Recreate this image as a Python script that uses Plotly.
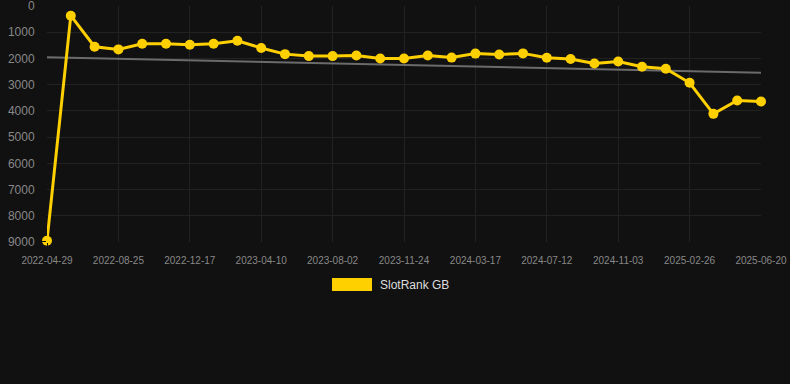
import plotly.graph_objects as go

dates = [
    "2022-04-29", "2022-06-07", "2022-07-16", "2022-08-25", "2022-10-02", "2022-11-09",
    "2022-12-17", "2023-01-24", "2023-03-03", "2023-04-10", "2023-05-18", "2023-06-25",
    "2023-08-02", "2023-09-09", "2023-10-17", "2023-11-24", "2024-01-01", "2024-02-08",
    "2024-03-17", "2024-04-25", "2024-06-03", "2024-07-12", "2024-08-19", "2024-09-26",
    "2024-11-03", "2024-12-11", "2025-01-18", "2025-02-26", "2025-04-05", "2025-05-13",
    "2025-06-20",
]
rank = [
    8950, 370, 1555, 1655, 1440, 1440, 1478, 1440, 1325, 1600, 1835,
    1910, 1910, 1890, 2005, 2005, 1890, 1967, 1815, 1848, 1807, 1973,
    2024, 2190, 2115, 2318, 2394, 2929, 4113, 3603, 3641,
]
trend_x = [dates[0], dates[-1]]
trend_y = [1950, 2545]
tick_labels = dates[::3]
y_ticks = [0, 1000, 2000, 3000, 4000, 5000, 6000, 7000, 8000, 9000]
series_name = "SlotRank GB"

gold = "#FFD000"
bg = "#111111"
grid = "#222222"

L, R, T, B = 47, 29, 6, 142
W, H = 790, 384
ph = H - T - B
pw = W - L - R

fig = go.Figure()
fig.add_trace(go.Scatter(
    x=trend_x, y=trend_y, mode="lines",
    line=dict(color="#6b6b6b", width=2), showlegend=False, hoverinfo="skip",
))
fig.add_trace(go.Scatter(
    x=dates, y=rank, mode="lines+markers", name=series_name,
    line=dict(color=gold, width=3),
    marker=dict(color=gold, size=10),
    showlegend=False, cliponaxis=False,
))

fig.update_layout(
    width=W, height=H,
    paper_bgcolor=bg, plot_bgcolor=bg,
    margin=dict(l=L, r=R, t=T, b=B),
    font=dict(family="Liberation Sans, Arial, sans-serif", color="#888888"),
    xaxis=dict(
        type="category", categoryorder="array", categoryarray=dates,
        range=[0, len(dates) - 1], automargin=False,
        tickmode="array", tickvals=tick_labels, ticktext=tick_labels,
        showgrid=True, gridcolor=grid, gridwidth=1,
        zeroline=False, showline=False,
        tickfont=dict(size=10, color="#888888"),
        ticks="outside", ticklen=9, tickcolor=bg,
        ticklabeloverflow="allow",
    ),
    yaxis=dict(
        range=[9000.5, -0.5], tickmode="array", automargin=False,
        tickvals=y_ticks,
        showgrid=True, gridcolor=grid, gridwidth=1,
        zeroline=False, showline=False,
        tickfont=dict(size=12, color="#888888"),
        ticks="outside", ticklen=9, tickcolor=bg,
        ticklabeloverflow="allow",
    ),
    shapes=[dict(
        type="rect", xref="paper", yref="paper",
        x0=(332 - L) / pw, x1=(372 - L) / pw,
        y0=(T + ph - 291) / ph, y1=(T + ph - 278) / ph,
        fillcolor=gold, line=dict(width=0),
    )],
    annotations=[dict(
        text=series_name, xref="paper", yref="paper",
        x=(378 - L) / pw, y=(T + ph - 284.5) / ph,
        xanchor="left", yanchor="middle", showarrow=False,
        font=dict(size=12, color="#dddddd"),
    )],
)

fig.write_html(
    "out.html",
    config={"displayModeBar": False},
    post_script="document.body.style.margin='0';document.body.style.background='#111111';",
)
